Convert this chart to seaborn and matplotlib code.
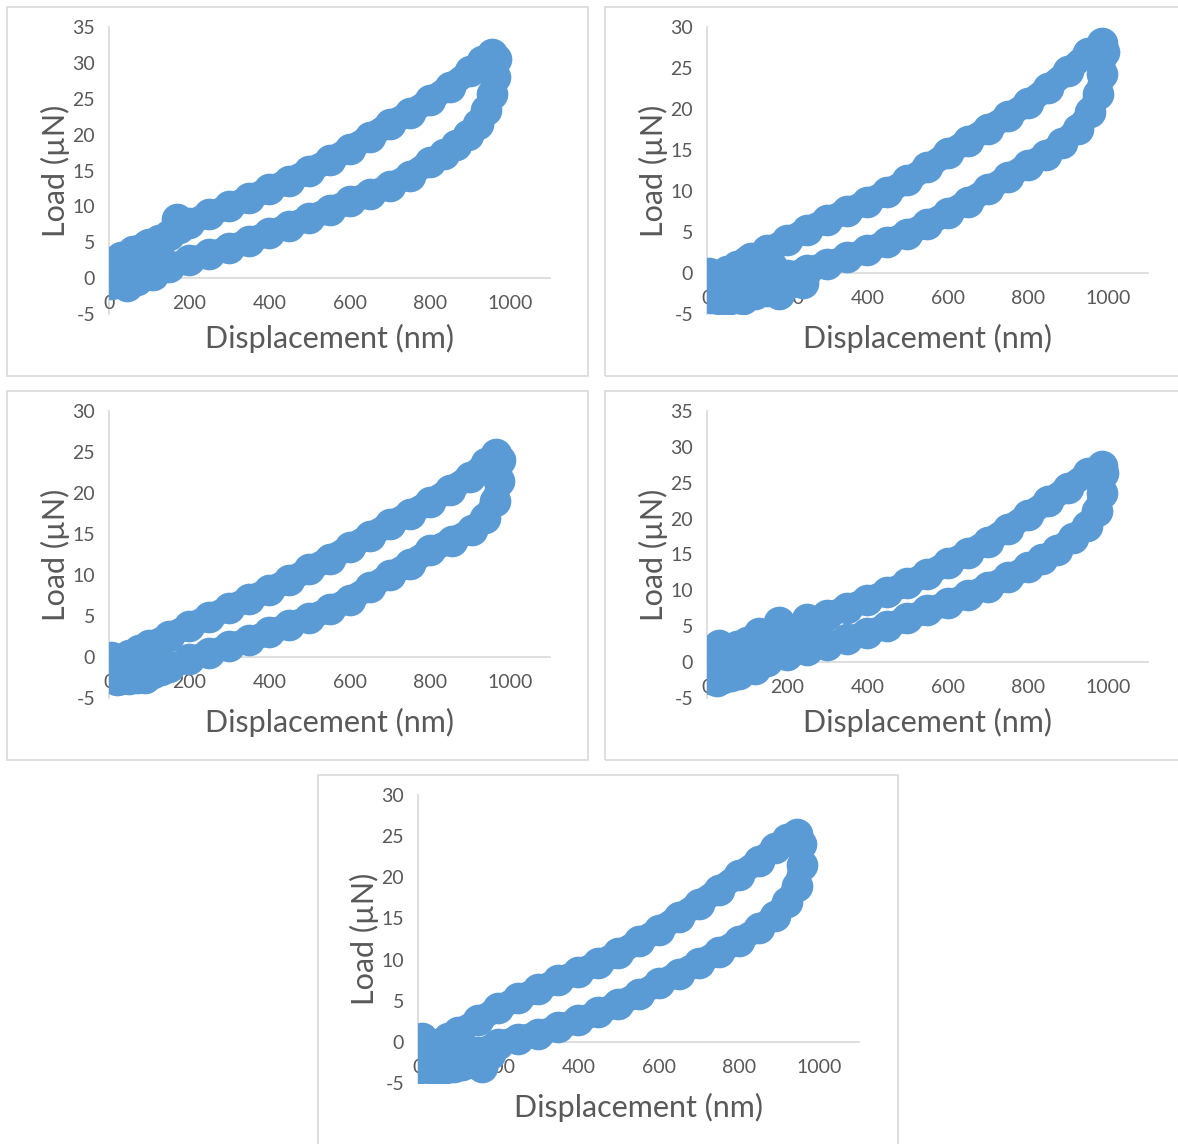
import matplotlib
matplotlib.use("Agg")
import matplotlib.pyplot as plt
from matplotlib.patches import Rectangle
import numpy as np
import pandas as pd
import seaborn as sns

sns.set_theme(style="white")
plt.rcParams["font.family"] = ["Lato", "DejaVu Sans"]
plt.rcParams["axes.unicode_minus"] = False

BLUE = "#5B9BD5"
GRID = "#D9D9D9"
TEXT = "#595959"

x_ticks = [0, 200, 400, 600, 800, 1000]
x_title = "Displacement (nm)"
y_title = "Load (µN)"

# ---- Specimen 1 ----
s1_load_disp = [0, 25, 50, 75, 100, 125, 150, 175, 200, 250, 300, 350, 400, 450, 500, 550,
                600, 650, 700, 750, 800, 850, 900, 930, 955]
s1_load_force = [1.2, 2.2, 3.0, 3.9, 4.7, 5.3, 6.0, 7.0, 7.7, 8.9, 10.0, 11.2, 12.4, 13.6, 15.0, 16.4,
                 18.0, 19.7, 21.5, 23.0, 24.8, 26.7, 28.8, 30.3, 31.3]
s1_unload_disp = [965, 963, 955, 940, 920, 895, 865, 835, 800, 750, 700, 650, 600, 550, 500, 450,
                  400, 350, 300, 250, 200, 150, 100, 50, 0]
s1_unload_force = [30.5, 28.0, 25.6, 23.4, 21.5, 19.9, 18.5, 17.3, 16.2, 14.3, 12.8, 11.7, 10.7, 9.5, 8.4, 7.3,
                   6.3, 5.2, 4.2, 3.3, 2.5, 1.6, 0.7, 0.1, -0.2]
s1_extra_disp = [0, 5, 15, 30, 45, 60, 80, 95, 115, 135, 40, 70, 110, 170]
s1_extra_force = [2.2, -0.8, 0.8, 3.0, -1.1, 3.8, 1.8, 4.6, 3.0, 2.2, 1.2, -0.3, 0.4, 8.2]

# ---- Specimen 2 ----
s2_load_disp = [0, 25, 50, 75, 100, 150, 200, 250, 300, 350, 400, 450, 500, 550, 600, 650,
                700, 750, 800, 850, 900, 950, 985]
s2_load_force = [-1.0, -0.3, 0.3, 0.9, 1.5, 2.8, 4.0, 5.3, 6.5, 7.6, 8.7, 9.9, 11.3, 12.9, 14.6, 16.1,
                 17.6, 19.1, 20.7, 22.6, 24.6, 26.8, 28.0]
s2_unload_disp = [990, 986, 975, 955, 925, 885, 845, 800, 750, 700, 650, 600, 550, 500, 450, 400,
                  350, 300, 250, 200, 150, 100, 50, 20]
s2_unload_force = [27.0, 24.3, 21.8, 19.6, 17.6, 15.8, 14.4, 13.2, 11.7, 10.2, 8.7, 7.3, 6.0, 4.8, 3.8, 2.8,
                   1.9, 1.1, 0.4, -0.3, -1.1, -2.0, -2.6, -2.9]
s2_extra_disp = [0, 10, 30, 50, 70, 90, 120, 150, 180, 40, 80, 130, 200, 5, 220, 240, 160, 110]
s2_extra_force = [-2.0, -3.0, -3.2, -3.3, -3.0, -3.2, -2.6, -2.2, -2.6, -1.0, 0.4, 0.0, -1.4, 0.0, -0.5,
                  -1.2, 1.0, 1.8]

# ---- Specimen 3 ----
s3_load_disp = [0, 25, 50, 75, 100, 150, 200, 250, 300, 350, 400, 450, 500, 550, 600, 650,
                700, 750, 800, 850, 900, 940, 965]
s3_load_force = [-1.0, -0.3, 0.3, 0.9, 1.5, 2.6, 3.8, 4.9, 6.0, 7.1, 8.2, 9.4, 10.7, 12.0, 13.4, 14.8,
                 16.2, 17.5, 18.9, 20.4, 22.0, 23.6, 24.8]
s3_unload_disp = [975, 974, 962, 938, 905, 855, 800, 750, 700, 650, 600, 550, 500, 450, 400, 350,
                  300, 250, 200, 150, 100, 50, 20]
s3_unload_force = [24.0, 21.5, 19.0, 17.0, 15.5, 14.2, 13.0, 11.4, 10.0, 8.5, 7.0, 5.8, 4.8, 3.9, 3.0, 2.1,
                   1.3, 0.5, -0.3, -1.2, -2.0, -2.6, -2.8]
s3_extra_disp = [0, 10, 30, 50, 70, 90, 110, 130, 40, 80, 120, 5]
s3_extra_force = [-1.5, -2.6, -2.7, -2.7, -2.6, -2.5, -2.0, -1.6, -0.8, 0.2, -0.5, 0.0]

# ---- Specimen 4 ----
s4_load_disp = [0, 25, 50, 75, 100, 150, 200, 250, 300, 350, 400, 450, 500, 550, 600, 650,
                700, 750, 800, 850, 900, 950, 985]
s4_load_force = [0.5, 1.2, 1.8, 2.3, 2.8, 3.6, 4.5, 5.5, 6.5, 7.6, 8.7, 9.8, 11.0, 12.3, 13.8, 15.2,
                 16.8, 18.6, 20.5, 22.4, 24.3, 26.3, 27.4]
s4_unload_disp = [988, 985, 972, 948, 912, 872, 835, 800, 750, 700, 650, 600, 550, 500, 450, 400,
                  350, 300, 250, 200, 150, 100, 50, 20]
s4_unload_force = [26.3, 23.6, 21.1, 19.0, 17.3, 15.6, 14.4, 13.2, 11.8, 10.5, 9.3, 8.2, 7.2, 6.1, 5.0, 4.1,
                   3.2, 2.4, 1.7, 1.0, 0.2, -0.8, -1.6, -2.2]
s4_extra_disp = [0, 10, 25, 40, 60, 80, 110, 140, 170, 200, 230, 260, 30, 130, 250, 180, 120, 80, 20]
s4_extra_force = [-1.0, -2.4, -2.6, -2.2, -2.0, -1.6, 0.5, 1.0, 2.2, 3.0, 4.2, 3.8, 2.4, 4.0, 6.0, 5.6,
                  -1.0, 0.8, 0.5]

# ---- Specimen 5 ----
s5_load_disp = [0, 25, 50, 75, 100, 150, 200, 250, 300, 350, 400, 450, 500, 550, 600, 650,
                700, 750, 800, 850, 890, 920, 945]
s5_load_force = [-1.5, -0.8, -0.2, 0.5, 1.2, 2.6, 4.1, 5.3, 6.4, 7.5, 8.5, 9.6, 10.8, 12.2, 13.6, 15.2,
                 16.8, 18.5, 20.3, 22.0, 23.5, 24.6, 25.2]
s5_unload_disp = [956, 957, 945, 920, 890, 850, 800, 750, 700, 650, 600, 550, 500, 450, 400, 350,
                  300, 250, 200, 150, 100, 50, 20]
s5_unload_force = [24.0, 21.5, 19.0, 17.0, 15.3, 13.8, 12.3, 10.9, 9.6, 8.3, 7.1, 5.8, 4.6, 3.6, 2.6, 1.8,
                   1.0, 0.4, -0.2, -1.2, -2.2, -2.9, -3.1]
s5_extra_disp = [0, 5, 10, 30, 50, 70, 90, 110, 140, 160, 40, 80, 120, 5, 180]
s5_extra_force = [-3.1, -1.5, 0.5, -3.2, -3.2, -3.2, -3.1, -2.8, -2.6, -3.0, -1.0, 0.0, -1.0, -3.2, -1.5]

specimens = [
    dict(load=(s1_load_disp, s1_load_force), unload=(s1_unload_disp, s1_unload_force),
         extra=(s1_extra_disp, s1_extra_force), ymax=35),
    dict(load=(s2_load_disp, s2_load_force), unload=(s2_unload_disp, s2_unload_force),
         extra=(s2_extra_disp, s2_extra_force), ymax=30),
    dict(load=(s3_load_disp, s3_load_force), unload=(s3_unload_disp, s3_unload_force),
         extra=(s3_extra_disp, s3_extra_force), ymax=30),
    dict(load=(s4_load_disp, s4_load_force), unload=(s4_unload_disp, s4_unload_force),
         extra=(s4_extra_disp, s4_extra_force), ymax=35),
    dict(load=(s5_load_disp, s5_load_force), unload=(s5_unload_disp, s5_unload_force),
         extra=(s5_extra_disp, s5_extra_force), ymax=30),
]

W, H = 1178, 1144
fig = plt.figure(figsize=(W / 100, H / 100), dpi=100)
fig.patch.set_facecolor("white")

# plot areas (left, top, right, bottom) and chart frames (left, top, right, bottom), in pixels
plot_boxes = [(109, 27, 550, 314), (707, 27, 1148, 314),
              (109, 411, 550, 698), (707, 411, 1148, 698),
              (418, 795, 859, 1083)]
frame_boxes = [(7, 7, 588, 376), (605, 7, 1185, 376),
               (7, 391, 588, 760), (605, 391, 1185, 760),
               (318, 775, 898, 1150)]

for (fl, ft, fr, fb) in frame_boxes:
    fig.add_artist(Rectangle((fl / W, 1 - fb / H), (fr - fl) / W, (fb - ft) / H,
                             transform=fig.transFigure, fill=False, ec=GRID, lw=1.2))

for spec, (l, t, r, b) in zip(specimens, plot_boxes):
    ax = fig.add_axes([l / W, 1 - b / H, (r - l) / W, (b - t) / H])
    ax.set_axisbelow(True)

    curves = pd.concat([
        pd.DataFrame({"disp": spec["load"][0], "force": spec["load"][1], "branch": "load"}),
        pd.DataFrame({"disp": spec["unload"][0], "force": spec["unload"][1], "branch": "unload"}),
    ], ignore_index=True)
    extra = pd.DataFrame({"disp": spec["extra"][0], "force": spec["extra"][1], "branch": "extra"})
    points = pd.concat([curves, extra], ignore_index=True)

    sns.lineplot(data=curves, x="disp", y="force", units="branch", estimator=None, sort=False,
                 color=BLUE, lw=18, solid_capstyle="round", solid_joinstyle="round", ax=ax)
    sns.scatterplot(data=points, x="disp", y="force", color=BLUE, s=520, linewidth=0,
                    alpha=1, ax=ax)

    ax.set_xlim(0, 1100)
    ax.set_ylim(-5, spec["ymax"])
    ax.set_xticks(x_ticks)
    ax.set_yticks(np.arange(-5, spec["ymax"] + 1, 5))
    ax.set_xticklabels([str(v) for v in x_ticks])

    for side in ["top", "right"]:
        ax.spines[side].set_visible(False)
    ax.spines["bottom"].set_position(("data", 0))
    for side in ["bottom", "left"]:
        ax.spines[side].set_color(GRID)
        ax.spines[side].set_linewidth(1.2)
        ax.spines[side].set_zorder(0.4)

    ax.tick_params(axis="x", length=0, pad=12, labelsize=14, labelcolor=TEXT)
    ax.tick_params(axis="y", length=0, pad=10, labelsize=14, labelcolor=TEXT)

    ax.set_xlabel(x_title, fontsize=22, color=TEXT)
    ax.set_ylabel(y_title, fontsize=22, color=TEXT, labelpad=2)
    ax.xaxis.label.set_verticalalignment("center")
    ax.xaxis.set_label_coords(0.5, -24 / (b - t))
    ax.set_facecolor("white")

fig.savefig("out.png", dpi=100, facecolor="white")
